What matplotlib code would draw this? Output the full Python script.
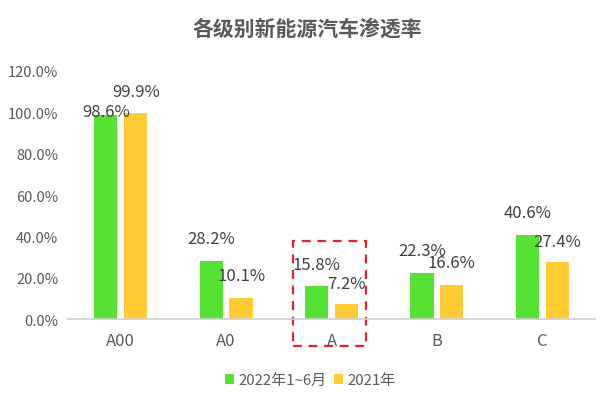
import matplotlib
matplotlib.use("Agg")
import matplotlib.pyplot as plt
from matplotlib.patches import Rectangle
from matplotlib.ticker import FuncFormatter
import numpy as np

plt.rcParams['font.family'] = ['Noto Sans CJK SC', 'DejaVu Sans']

# datos
categorias = ["A00", "A0", "A", "B", "C"]
serie_2022 = [98.6, 28.2, 15.8, 22.3, 40.6]
serie_2021 = [99.9, 10.1, 7.2, 16.6, 27.4]
nombres = ["2022年1~6月", "2021年"]
titulo = "各级别新能源汽车渗透率"

verde = '#55e333'
amarillo = '#ffcd33'
gris = '#595959'

fig = plt.figure(figsize=(6.15, 4.1), dpi=100)
ax = fig.add_axes([0.1106, 0.2195, 0.8569, 0.6049])

x = np.arange(len(categorias))
ancho = 0.22
sep = 0.142
b1 = ax.bar(x - sep, serie_2022, ancho, color=verde, label=nombres[0])
b2 = ax.bar(x + sep, serie_2021, ancho, color=amarillo, label=nombres[1])

# etiquetas encima de las barras (la de 98.6% queda más baja, como en el original)
desp_2022 = [3, 16, 16, 16, 16]
desp_2021 = [15, 16, 15, 16, 15]
for barras, desp in [(b1, desp_2022), (b2, desp_2021)]:
    for b, d in zip(barras, desp):
        ax.annotate(f"{b.get_height():.1f}%", (b.get_x() + b.get_width() / 2, b.get_height()),
                    xytext=(0, d), textcoords='offset points', ha='center', va='center',
                    fontsize=12, color='#404040')

ax.set_ylim(0, 120)
ax.set_yticks(np.arange(0, 121, 20))
ax.yaxis.set_major_formatter(FuncFormatter(lambda v, p: f"{v:.1f}%"))
ax.set_xlim(-0.5, len(categorias) - 0.5)
ax.set_xticks(x)
ax.set_xticklabels(categorias)
ax.tick_params(length=0, colors=gris)
ax.tick_params(axis='y', labelsize=10.5, pad=7)
ax.tick_params(axis='x', labelsize=12, pad=9)
for lado in ['top', 'right', 'left']:
    ax.spines[lado].set_visible(False)
ax.spines['bottom'].set_color('#d0d0d0')
ax.spines['bottom'].set_linewidth(1.2)

# recuadro rojo alrededor de la categoría A
ax.add_patch(Rectangle((2 - 0.37, -13), 0.70, 50.7, fill=False, edgecolor='#e8202a',
                       linestyle=(0, (4, 3)), linewidth=1.6, clip_on=False))

fig.suptitle(titulo, x=0.5, y=0.955, fontsize=15, fontweight='bold', color=gris)

fig.legend(loc='center', bbox_to_anchor=(0.505, 0.07), ncol=2, frameon=False,
           fontsize=10.8, handlelength=0.6, handleheight=0.6, handletextpad=0.3,
           columnspacing=0.5, labelcolor=gris)

fig.savefig("out.png", dpi=100)
